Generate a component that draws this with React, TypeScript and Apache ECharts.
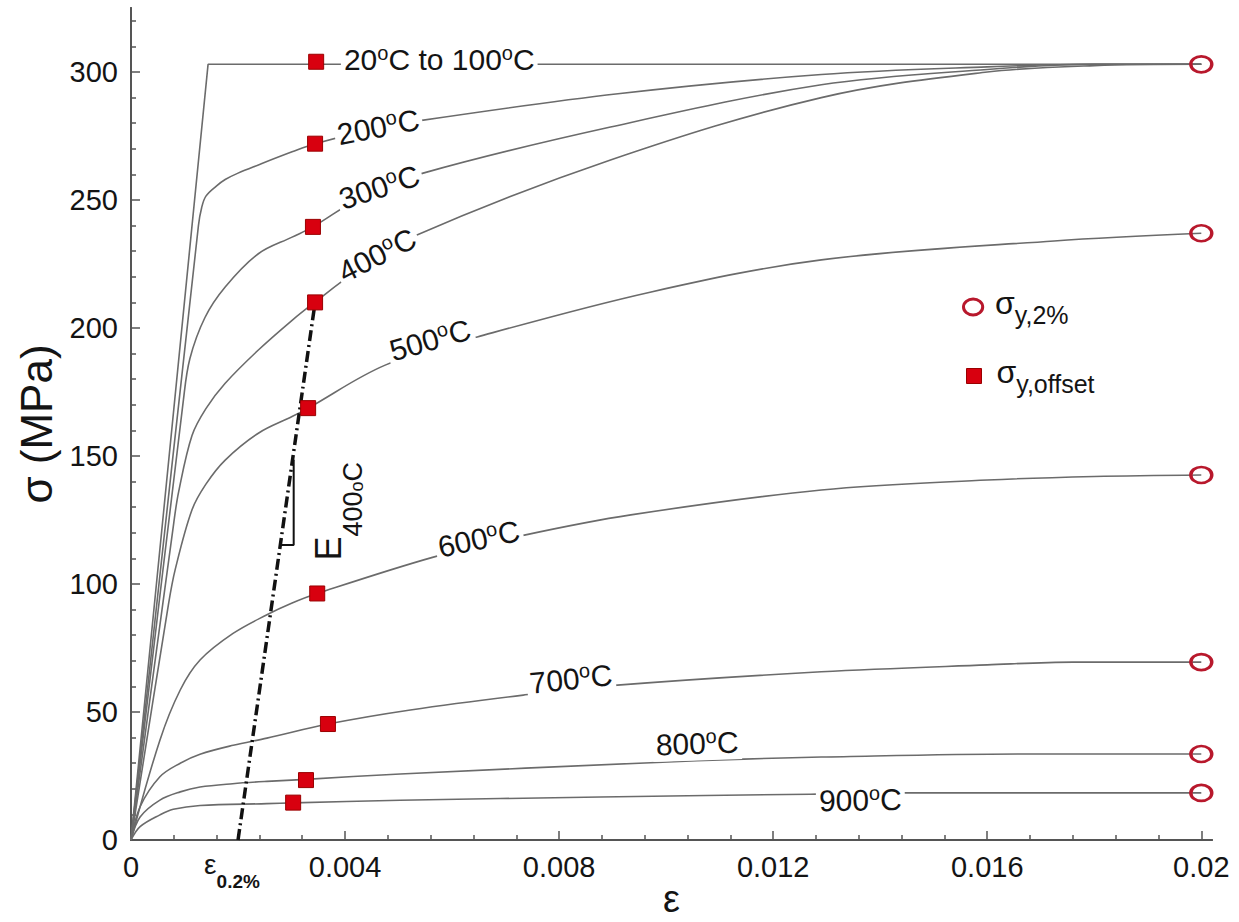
import React, { useEffect, useRef } from 'react';
import * as echarts from 'echarts';

const FONT = '"Liberation Sans", Arial, Helvetica, sans-serif';
const TEXT = '#141414';
const AXIS = '#555555';
const CURVE = '#6b6b6b';

// ---- Stress-strain curves: [strain, stress (MPa)] ----
const curveNames = ['20°C to 100°C', '200°C', '300°C', '400°C', '500°C', '600°C', '700°C', '800°C', '900°C'];
const curve20to100 = [[0, 0], [0.00144, 303], [0.02, 303]];
const curve200 = [[0, 0], [0.00126, 240], [0.00132, 247], [0.0014, 251.5], [0.0016, 255.5], [0.00176, 258], [0.002, 260.5], [0.00238, 263.7], [0.00301, 268.8], [0.00344, 272], [0.0044, 277], [0.0054, 281], [0.0091, 291.5], [0.0129, 299], [0.016, 302], [0.018, 303], [0.02, 303]];
const curve300 = [[0, 0], [0.00098, 172], [0.0011, 188], [0.00138, 204], [0.00176, 216], [0.00238, 229], [0.00301, 235.5], [0.0034, 239.5], [0.0043, 251], [0.00546, 260.5], [0.00896, 278.5], [0.0129, 295], [0.016, 301], [0.018, 303], [0.02, 303]];
const curve400 = [[0, 0], [0.0008, 124], [0.00089, 136], [0.00114, 158], [0.0014, 168.5], [0.00176, 178.4], [0.00238, 191.4], [0.00301, 203], [0.0034, 209.5], [0.0042, 222], [0.00531, 236], [0.00896, 265.6], [0.0129, 290], [0.016, 300], [0.018, 302.5], [0.02, 303]];
const curve500 = [[0, 0], [0.0007, 92], [0.00083, 106], [0.00114, 129], [0.0014, 139], [0.00176, 148.4], [0.00238, 158.9], [0.00301, 165.4], [0.00331, 168.7], [0.00475, 185.5], [0.00647, 196.5], [0.0097, 214], [0.0129, 226.6], [0.01725, 234], [0.02, 237]];
const curve600 = [[0, 0], [0.00054, 39], [0.00092, 58.6], [0.00129, 70.3], [0.0019, 80.6], [0.00254, 88], [0.003, 92.5], [0.00348, 96.3], [0.00565, 110.5], [0.00733, 119], [0.00934, 127], [0.0129, 136.7], [0.016, 140.6], [0.018, 142], [0.02, 142.6]];
const curve700 = [[0, 0], [0.00017, 13], [0.00054, 24.7], [0.00092, 30], [0.00129, 33.5], [0.00191, 37], [0.00254, 39.8], [0.00368, 45.3], [0.00522, 50.8], [0.00733, 56.6], [0.00909, 60.5], [0.0129, 65.7], [0.016, 68.4], [0.0176, 69.5], [0.02, 69.5]];
const curve800 = [[0, 0], [0.00017, 9], [0.00054, 15.6], [0.00092, 18.8], [0.00129, 20.7], [0.0019, 22], [0.00254, 22.9], [0.00327, 23.7], [0.00503, 25.8], [0.00971, 30.2], [0.01145, 31.6], [0.0129, 32.4], [0.01663, 33.6], [0.02, 33.6]];
const curve900 = [[0, 0], [0.00017, 5.2], [0.00054, 9.8], [0.00079, 12], [0.00129, 13.5], [0.00254, 14.2], [0.00303, 14.5], [0.00503, 15.5], [0.00877, 16.8], [0.0127, 17.9], [0.01444, 18.4], [0.0179, 18.4], [0.02, 18.4]];
const curves = [curve20to100, curve200, curve300, curve400, curve500, curve600, curve700, curve800, curve900];

// ---- Yield points ----
const offsetStrain = [0.00346, 0.00344, 0.0034, 0.00344, 0.00331, 0.00348, 0.00368, 0.00327, 0.00303];
const offsetStress = [304, 272, 239.5, 210, 168.7, 96.3, 45.3, 23.4, 14.6];
const twoPctStrain = [0.02, 0.02, 0.02, 0.02, 0.02, 0.02];
const twoPctStress = [303, 237, 142.6, 69.5, 33.6, 18.4];

// ---- 0.2% offset line with E(400°C) slope, and its slope triangle ----
const offsetLine = [[0.002, 0], [0.00344, 210]];
const slopeTriangle = [[0.00277, 115.2], [0.00304, 115.2], [0.00304, 148.5]];

// ---- Curve label anchors ----
const labelX = [0.00576, 0.00462, 0.00464, 0.0046, 0.00559, 0.0065, 0.00822, 0.01058, 0.01363];
const labelY = [304.7, 278.5, 255, 228.5, 195.3, 117.6, 62.9, 37.7, 15.6];
const labelRot = [0, 11, 18, 27, 16, 12, 6, 2, 1];

// ---- Axis ticks ----
const xMajorTicks = [0, 0.004, 0.008, 0.012, 0.016, 0.02];
const xMinorTicks = [0.0008, 0.0016, 0.0024, 0.0032, 0.0048, 0.0056, 0.0064, 0.0072, 0.0088, 0.0096, 0.0104, 0.0112, 0.0128, 0.0136, 0.0144, 0.0152, 0.0168, 0.0176, 0.0184, 0.0192];
const yMajorTicks = [0, 50, 100, 150, 200, 250, 300];
const yMinorTicks = [10, 20, 30, 40, 60, 70, 80, 90, 110, 120, 130, 140, 160, 170, 180, 190, 210, 220, 230, 240, 260, 270, 280, 290, 310, 320];

const X_MAX = 0.0202;
const Y_MAX = 325;

const ELLIPSE = 'path://M0,10A12,10,0,1,1,24,10A12,10,0,1,1,0,10Z';

function buildOption() {
  const tickLabel = { fontSize: 29, color: TEXT, fontFamily: FONT };
  const axisLineStyle = { color: AXIS, width: 2 };
  const tickLineStyle = { color: AXIS, width: 1.5 };

  const curveSeries = curves.map((d, i) => ({
    type: 'line',
    name: curveNames[i],
    data: d,
    symbol: 'none',
    smooth: i === 0 ? false : 0.35,
    lineStyle: { color: CURVE, width: 1.6 },
    z: 2,
    silent: true,
  }));

  return {
    animation: false,
    backgroundColor: '#ffffff',
    grid: { left: 131, right: 27, top: 8, bottom: 82, containLabel: false, outerBoundsMode: 'none' },
    xAxis: [
      {
        type: 'value', min: 0, max: X_MAX, position: 'bottom',
        axisLine: { show: true, onZero: false, lineStyle: axisLineStyle },
        axisTick: { show: true, inside: true, length: 9, customValues: xMajorTicks, lineStyle: tickLineStyle },
        axisLabel: { show: true, customValues: xMajorTicks, margin: 12, ...tickLabel, formatter: (v: number) => String(v) },
        splitLine: { show: false },
        name: 'ε', nameLocation: 'middle', nameGap: 40, nameMoveOverlap: false,
        nameTextStyle: { fontSize: 38, lineHeight: 38, color: TEXT, fontFamily: FONT },
      },
      {
        type: 'value', min: 0, max: X_MAX, position: 'bottom',
        axisLine: { show: true, onZero: false, lineStyle: axisLineStyle },
        axisTick: { show: true, inside: true, length: 5, customValues: xMinorTicks, lineStyle: tickLineStyle },
        axisLabel: { show: false },
        splitLine: { show: false },
      },
    ],
    yAxis: [
      {
        type: 'value', min: 0, max: Y_MAX, position: 'left',
        axisLine: { show: true, onZero: false, lineStyle: axisLineStyle },
        axisTick: { show: true, inside: true, length: 9, customValues: yMajorTicks, lineStyle: tickLineStyle },
        axisLabel: { show: true, customValues: yMajorTicks, margin: 13, ...tickLabel },
        splitLine: { show: false },
        name: 'σ (MPa)', nameLocation: 'middle', nameGap: 70,
        nameTextStyle: { fontSize: 44, color: TEXT, fontFamily: FONT },
      },
      {
        type: 'value', min: 0, max: Y_MAX, position: 'left',
        axisLine: { show: true, onZero: false, lineStyle: axisLineStyle },
        axisTick: { show: true, inside: true, length: 5, customValues: yMinorTicks, lineStyle: tickLineStyle },
        axisLabel: { show: false },
        splitLine: { show: false },
      },
    ],
    legend: [
      {
        data: ['σy,2%'], left: 962, top: 287, padding: 0,
        itemWidth: 22, itemHeight: 16, icon: ELLIPSE, selectedMode: false,
        itemStyle: { color: 'rgba(255,255,255,0)', borderColor: '#b8182c', borderWidth: 3, opacity: 1 },
        formatter: () => '{s|σ}{b|y,2%}{sp| }',
        textStyle: {
          color: TEXT, fontFamily: FONT,
          rich: {
            s: { fontSize: 32, lineHeight: 24, verticalAlign: 'top', padding: [0, 0, 0, 6], color: TEXT, fontFamily: FONT },
            b: { fontSize: 25, lineHeight: 22, verticalAlign: 'bottom', color: TEXT, fontFamily: FONT },
            sp: { fontSize: 1, lineHeight: 40 },
          },
        },
      },
      {
        data: ['σy,offset'], left: 966, top: 356, padding: 0,
        itemWidth: 15, itemHeight: 15, icon: 'rect', selectedMode: false,
        itemStyle: { color: '#d8000f', borderColor: '#9a0000', borderWidth: 1, opacity: 1 },
        formatter: () => '{s|σ}{b|y,offset}{sp| }',
        textStyle: {
          color: TEXT, fontFamily: FONT,
          rich: {
            s: { fontSize: 32, lineHeight: 14, verticalAlign: 'top', padding: [0, 0, 0, 10], color: TEXT, fontFamily: FONT },
            b: { fontSize: 25, lineHeight: 20, verticalAlign: 'bottom', color: TEXT, fontFamily: FONT },
            sp: { fontSize: 1, lineHeight: 40 },
          },
        },
      },
    ],
    series: [
      ...curveSeries,
      {
        type: 'line', name: 'offset line', data: offsetLine, symbol: 'none', silent: true, z: 4,
        lineStyle: { color: '#111111', width: 3.5, type: [11, 4, 2, 4] },
      },
      {
        type: 'line', name: 'slope', data: slopeTriangle, symbol: 'none', silent: true, z: 4,
        lineStyle: { color: '#111111', width: 2 },
      },
      {
        type: 'scatter', name: 'curve labels', silent: true, z: 5,
        symbolSize: 1, itemStyle: { color: 'rgba(0,0,0,0)', opacity: 1 },
        label: {
          show: true, position: 'inside', color: TEXT, fontFamily: FONT, fontSize: 30, lineHeight: 34,
          textBorderWidth: 0, backgroundColor: '#ffffff', padding: [0, 3],
          rich: { o: { fontSize: 20, lineHeight: 12, verticalAlign: 'top', color: TEXT, fontFamily: FONT, textBorderWidth: 0 } },
        },
        data: curveNames.map((t, i) => ({
          value: [labelX[i], labelY[i]],
          label: { rotate: labelRot[i], formatter: t.replace(/°/g, '{o|o}') },
        })),
      },
      {
        type: 'scatter', name: 'annotations', silent: true, z: 5,
        symbolSize: 1, itemStyle: { color: 'rgba(0,0,0,0)', opacity: 1 },
        label: {
          show: true, position: 'inside', color: TEXT, fontFamily: FONT, textBorderWidth: 0,
          rich: {
            E: { fontSize: 36, lineHeight: 33, verticalAlign: 'top', color: TEXT, fontFamily: FONT },
            s: { fontSize: 27, lineHeight: 27, verticalAlign: 'bottom', color: TEXT, fontFamily: FONT },
            so: { fontSize: 18, lineHeight: 40, verticalAlign: 'bottom', color: TEXT, fontFamily: FONT },
            sp: { fontSize: 1, lineHeight: 56 },
            e: { fontSize: 28, lineHeight: 20, verticalAlign: 'top', color: TEXT, fontFamily: FONT },
            s2: { fontSize: 19, fontWeight: 'bold', lineHeight: 25, verticalAlign: 'bottom', color: TEXT, fontFamily: FONT },
            sp2: { fontSize: 1, lineHeight: 40 },
          },
        },
        data: [
          { value: [0.00387, 128.5], label: { rotate: 90, formatter: '{E|E}{s|400}{so|o}{s|C}{sp| }' } },
          { value: [0.00189, 0], label: { offset: [0, 30.5], formatter: '{e|ε}{s2|0.2%}{sp2| }' } },
        ],
      },
      {
        type: 'scatter', name: 'σy,offset', z: 6, silent: true,
        symbol: 'rect', symbolSize: 15,
        itemStyle: { color: '#d8000f', borderColor: '#9a0000', borderWidth: 1, opacity: 1 },
        data: offsetStrain.map((x, i) => [x, offsetStress[i]]),
      },
      {
        type: 'scatter', name: 'σy,2%', z: 6, silent: true,
        symbol: ELLIPSE, symbolSize: [21, 16],
        itemStyle: { color: 'rgba(255,255,255,0)', borderColor: '#b8182c', borderWidth: 3, opacity: 1 },
        data: twoPctStrain.map((x, i) => [x, twoPctStress[i]]),
      },
    ],
  };
}

export default function App() {
  const ref = useRef<HTMLDivElement>(null);
  useEffect(() => {
    if (!ref.current) return;
    const chart = echarts.init(ref.current, undefined, { renderer: 'svg' });
    chart.setOption(buildOption() as any);
    return () => chart.dispose();
  }, []);
  return (
    <div
      ref={ref}
      style={{ position: 'fixed', left: 0, top: 0, width: '1239px', height: '922px', background: '#fff' }}
    />
  );
}
